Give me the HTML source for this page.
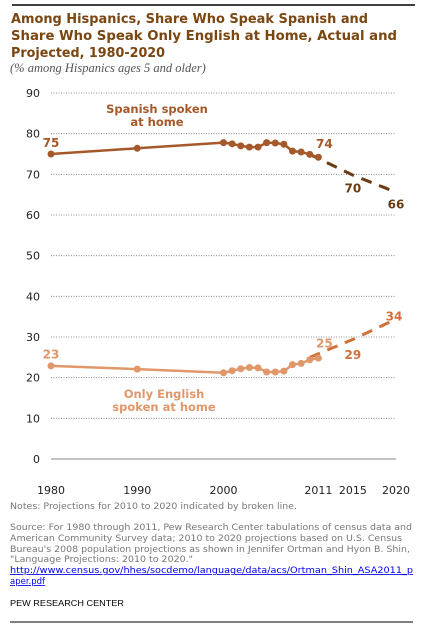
<!DOCTYPE html>
<html><head><meta charset="utf-8"><style>
body{margin:0;background:#fff;}
svg{display:block;font-family:"DejaVu Sans","Liberation Sans",sans-serif;}
</style></head><body>
<svg id="chart" width="427" height="626" viewBox="0 0 427 626">
<line x1="12" y1="5" x2="415" y2="5" stroke="#000" stroke-width="1.5"/>
<g fill="#7a4612" font-weight="bold" font-size="13.6">
<text x="11" y="23" textLength="357" lengthAdjust="spacingAndGlyphs">Among Hispanics, Share Who Speak Spanish and</text>
<text x="11" y="40" textLength="386" lengthAdjust="spacingAndGlyphs">Share Who Speak Only English at Home, Actual and</text>
<text x="11" y="57" textLength="154" lengthAdjust="spacingAndGlyphs">Projected, 1980-2020</text>
</g>
<text x="10" y="72" font-family="Liberation Serif,serif" font-style="italic" font-size="12.5" fill="#555">(% among Hispanics ages 5 and older)</text>
<g id="grid"></g><g id="marks"></g>
<text x="10" y="509" font-size="8.5" fill="#777" textLength="287" lengthAdjust="spacingAndGlyphs">Notes: Projections for 2010 to 2020 indicated by broken line.</text>
<g font-size="8.5" fill="#777">
<text x="10" y="530" textLength="402" lengthAdjust="spacingAndGlyphs">Source: For 1980 through 2011, Pew Research Center tabulations of census data and</text>
<text x="10" y="541" textLength="392" lengthAdjust="spacingAndGlyphs">American Community Survey  data; 2010 to 2020 projections based on U.S. Census</text>
<text x="10" y="552" textLength="400" lengthAdjust="spacingAndGlyphs">Bureau's 2008 population projections as shown in Jennifer Ortman and Hyon B. Shin,</text>
<text x="10" y="562" textLength="183" lengthAdjust="spacingAndGlyphs">"Language Projections: 2010 to 2020."</text>
</g>
<g font-size="8.5" fill="#00e" text-decoration="underline">
<text x="10" y="573" textLength="403" lengthAdjust="spacingAndGlyphs">http://www.census.gov/hhes/socdemo/language/data/acs/Ortman_Shin_ASA2011_p</text>
<text x="10" y="584">aper.pdf</text>
</g>
<text x="10" y="606" font-size="8.5" fill="#000" textLength="114" lengthAdjust="spacingAndGlyphs" font-family="Liberation Sans,sans-serif">PEW RESEARCH  CENTER</text>
<line x1="10" y1="622" x2="413" y2="622" stroke="#000" stroke-width="1"/>
</svg>
<script>
const yTicks=[0,10,20,30,40,50,60,70,80,90];
const xTickLabels=[1980,1990,2000,2011,2015,2020];
const years=[1980,1990,2000,2001,2002,2003,2004,2005,2006,2007,2008,2009,2010,2011];
const spanish=[75,76.4,77.8,77.5,77.0,76.7,76.7,77.8,77.7,77.4,75.7,75.5,74.9,74.2];
const english=[22.9,22.1,21.2,21.7,22.2,22.5,22.4,21.4,21.4,21.6,23.2,23.5,24.4,24.8];
const projYears=[2010,2015,2020];
const spanishProj=[74.9,69.8,65.6];
const englishProj=[25.0,29.4,34.4];
const spanishLabels=[[1980,75,'75'],[2011,74,'74'],[2015,70,'70'],[2020,66,'66']];
const englishLabels=[[1980,23,'23'],[2011,25,'25'],[2015,29,'29'],[2020,34,'34']];
const NS='http://www.w3.org/2000/svg';
const x=v=>51+(v-1980)*345/40;
const y=v=>459-v*366/90;
function mk(t,a,p){const e=document.createElementNS(NS,t);for(const k in a)e.setAttribute(k,a[k]);p.appendChild(e);return e;}
const grid=document.getElementById('grid'),marks=document.getElementById('marks');
yTicks.forEach(t=>{
 const l=mk('line',{x1:51,x2:396,y1:y(t),y2:y(t),stroke:t?'#777':'#888','stroke-width':t?0.8:1,'stroke-dasharray':t?'1 1.5':'none'},grid);
 
 
 const tx=mk('text',{x:40,y:y(t)+4,'text-anchor':'end','font-size':11,fill:'#222'},grid);tx.textContent=t;
 
 
});
xTickLabels.forEach(t=>{
 const tx=mk('text',{x:x(t),y:494,'text-anchor':'middle','font-size':11,fill:'#222'},grid);tx.textContent=t;
 
 
});
function series(vals,proj,col,pcol,name,labels,lcol){
 const g=mk('g',{},marks);
 
 
 const d=proj.map((v,i)=>(i?'L':'M')+x(projYears[i])+','+y(v)).join('');
 const pp=mk('path',{d:d,fill:'none',stroke:pcol,'stroke-width':3,'stroke-dasharray':'11 8'},g);
 
 
 const p=mk('polyline',{points:vals.map((v,i)=>x(years[i])+','+y(v)).join(' '),fill:'none',stroke:col,'stroke-width':2.5},g);
 
 
 vals.forEach((v,i)=>{const c=mk('circle',{cx:x(years[i]),cy:y(v),r:3.5,fill:col},g);
  
  });
 labels.forEach(([yr,v,s],i)=>{
  const dy=i==0?-7:(i==1?-10:(i==2?18:(name=='spanish'?18:0)));
  const dx=i==0?0:(i==1?6:(i==3&&name=='english'?-2:0));
  const t=mk('text',{x:x(yr)+dx,y:y(v)+dy,'text-anchor':'middle','font-size':12,'font-weight':'bold',fill:i==0||i==1?col:lcol},g);t.textContent=s;
  
  
 });
}
series(spanish,spanishProj,'#a5582a','#6b3c14','spanish',spanishLabels,'#6b3c14');
series(english,englishProj,'#e0976a','#d0703a','english',englishLabels,'#d0703a');
function lab(lines,cx,cy,col,name){lines.forEach((s,i)=>{const t=mk('text',{x:cx,y:cy+i*13,'text-anchor':'middle','font-size':11.5,'font-weight':'bold',fill:col},marks);t.textContent=s;
 
 });}
lab(['Spanish spoken','at home'],157,113,'#a5582a','spanish-series-label');
lab(['Only English','spoken at home'],164,398,'#e0976a','english-series-label');
</script>
</body></html>
